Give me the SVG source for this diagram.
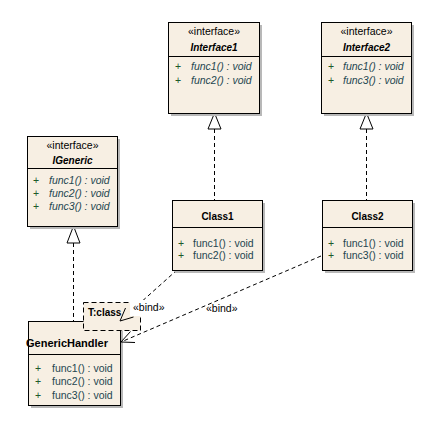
<svg xmlns="http://www.w3.org/2000/svg" width="442" height="425" viewBox="0 0 442 425">
<defs>
<style>
.box{fill:#F7EFE3;stroke:#000;stroke-width:1}
.sh{fill:#B8B8B8}
.div{stroke:#000;stroke-width:1}
.t{font-family:"Liberation Sans",Arial,sans-serif;font-size:10.5px;fill:#000}
.st{font-family:"Liberation Sans",Arial,sans-serif;font-size:10.5px;fill:#000}
.nm{font-family:"Liberation Sans",Arial,sans-serif;font-size:10px;font-weight:bold;fill:#000}
.op{font-family:"Liberation Sans",Arial,sans-serif;font-size:10.5px;fill:#1E4650}
.opi{font-family:"Liberation Sans",Arial,sans-serif;font-size:10.5px;font-style:italic;fill:#1E4650}
.pl{font-family:"Liberation Sans",Arial,sans-serif;font-size:10.5px;fill:#1E5A2A}
.dash{fill:none;stroke:#000;stroke-width:1;stroke-dasharray:4,3}
.tri{fill:#fff;stroke:#000;stroke-width:1}
.open{fill:none;stroke:#000;stroke-width:1}
</style>
</defs>
<rect width="442" height="425" fill="#fff"/>

<g id="connectors">
<line class="dash" x1="73.5" y1="243" x2="73.5" y2="321"/>
<polygon class="tri" points="73.5,226 67,243 80,243"/>
<line class="dash" x1="214.5" y1="129" x2="214.5" y2="200"/>
<polygon class="tri" points="214.5,113 208,129 221,129"/>
<line class="dash" x1="366.5" y1="129" x2="366.5" y2="200"/>
<polygon class="tri" points="366.5,113 360,129 373,129"/>
<line class="dash" x1="177" y1="270" x2="120" y2="321"/>
<line class="dash" x1="321" y1="256" x2="121" y2="342"/>
</g>

<g id="Interface1">
<rect class="sh" x="171" y="25" width="91" height="91"/>
<rect class="box" x="168.5" y="22.5" width="91" height="91"/>
<line class="div" x1="168.5" y1="56.5" x2="259.5" y2="56.5"/>
<text class="st" x="214" y="35" text-anchor="middle">«interface»</text>
<text class="nm" x="214" y="51" text-anchor="middle" font-style="italic">Interface1</text>
<text class="pl" x="175" y="70">+</text><text class="opi" x="191" y="70">func1() : void</text>
<text class="pl" x="175" y="84">+</text><text class="opi" x="191" y="84">func2() : void</text>
</g>

<g id="Interface2">
<rect class="sh" x="324" y="25" width="90" height="91"/>
<rect class="box" x="321.5" y="22.5" width="90" height="91"/>
<line class="div" x1="321.5" y1="56.5" x2="411.5" y2="56.5"/>
<text class="st" x="366.5" y="35" text-anchor="middle">«interface»</text>
<text class="nm" x="366.5" y="51" text-anchor="middle" font-style="italic">Interface2</text>
<text class="pl" x="328" y="70">+</text><text class="opi" x="343" y="70">func1() : void</text>
<text class="pl" x="328" y="84">+</text><text class="opi" x="343" y="84">func3() : void</text>
</g>

<g id="IGeneric">
<rect class="sh" x="30" y="139" width="90" height="90"/>
<rect class="box" x="27.5" y="136.5" width="90" height="90"/>
<line class="div" x1="27.5" y1="168.5" x2="117.5" y2="168.5"/>
<text class="st" x="72.5" y="148.5" text-anchor="middle">«interface»</text>
<text class="nm" x="72.5" y="163.5" text-anchor="middle" font-style="italic">IGeneric</text>
<text class="pl" x="33" y="183.5">+</text><text class="opi" x="49" y="183.5">func1() : void</text>
<text class="pl" x="33" y="196.5">+</text><text class="opi" x="49" y="196.5">func2() : void</text>
<text class="pl" x="33" y="209.5">+</text><text class="opi" x="49" y="209.5">func3() : void</text>
</g>

<g id="Class1">
<rect class="sh" x="175" y="203" width="90" height="70"/>
<rect class="box" x="172.5" y="200.5" width="90" height="70"/>
<line class="div" x1="172.5" y1="227.5" x2="262.5" y2="227.5"/>
<text class="nm" x="217.5" y="219.5" text-anchor="middle">Class1</text>
<text class="pl" x="178" y="246.5">+</text><text class="op" x="193" y="246.5">func1() : void</text>
<text class="pl" x="178" y="258.5">+</text><text class="op" x="193" y="258.5">func2() : void</text>
</g>

<g id="Class2">
<rect class="sh" x="325" y="203" width="90" height="70"/>
<rect class="box" x="322.5" y="200.5" width="90" height="70"/>
<line class="div" x1="322.5" y1="227.5" x2="412.5" y2="227.5"/>
<text class="nm" x="367.5" y="219.5" text-anchor="middle">Class2</text>
<text class="pl" x="328" y="246.5">+</text><text class="op" x="343" y="246.5">func1() : void</text>
<text class="pl" x="328" y="258.5">+</text><text class="op" x="343" y="258.5">func3() : void</text>
</g>

<g id="GenericHandler">
<rect class="sh" x="31" y="324" width="92" height="84"/>
<rect class="box" x="28.5" y="321.5" width="92" height="84"/>
<line class="div" x1="28.5" y1="354.5" x2="120.5" y2="354.5"/>
<text class="nm" x="26" y="346.5" textLength="82" lengthAdjust="spacingAndGlyphs">GenericHandler</text>
<text class="pl" x="35" y="371.5">+</text><text class="op" x="52" y="371.5">func1() : void</text>
<text class="pl" x="35" y="384.5">+</text><text class="op" x="52" y="384.5">func2() : void</text>
<text class="pl" x="35" y="398.5">+</text><text class="op" x="52" y="398.5">func3() : void</text>
</g>

<g id="T_class">
<rect x="83.5" y="302.5" width="57" height="28" fill="#F7EFE3" stroke="#000" stroke-width="1" stroke-dasharray="5,3"/>
<text class="nm" x="88" y="316">T:class</text>
</g>

<g id="bind-labels">
<polyline class="open" points="125.5,308 120,321 133.5,317"/>
<polyline class="open" points="130.5,331.5 121,342 135,342.5"/>
<rect x="130" y="300" width="36" height="16" fill="#fff"/>
<text class="t" x="133" y="311">«bind»</text>
<text class="t" x="206" y="312">«bind»</text>
</g>
</svg>
